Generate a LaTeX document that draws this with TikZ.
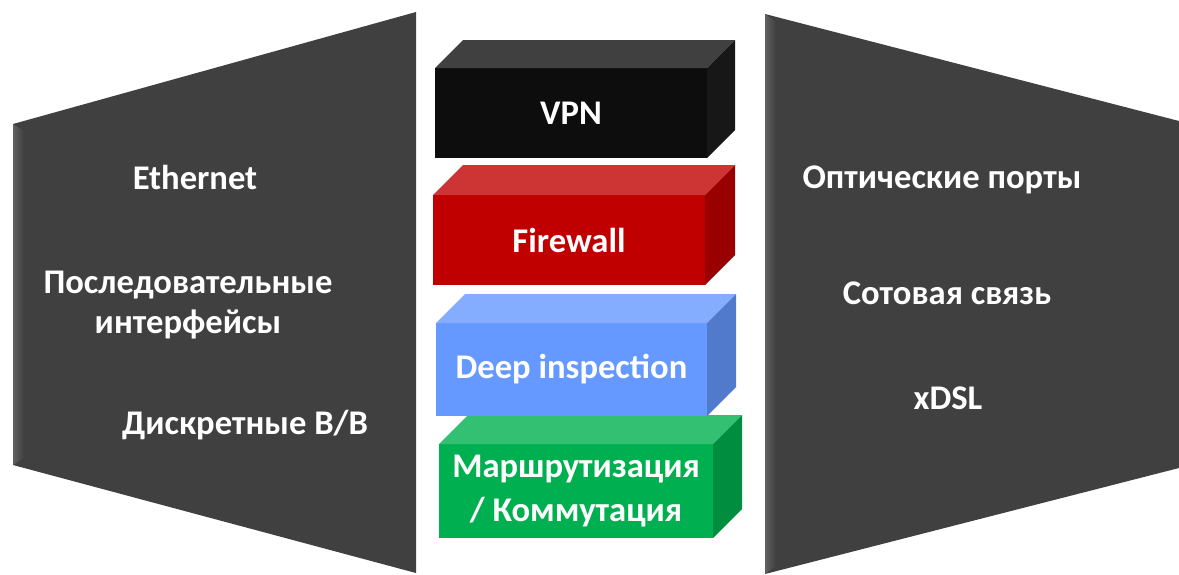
\documentclass[tikz,border=0pt]{standalone}
\usepackage{fontspec}
\setmainfont{Carlito}
\definecolor{panel}{HTML}{404040}
\definecolor{panelhi}{HTML}{616161}
\definecolor{vpnF}{HTML}{0D0D0D}
\definecolor{vpnT}{HTML}{404040}
\definecolor{vpnS}{HTML}{171717}
\definecolor{fwF}{HTML}{C00000}
\definecolor{fwT}{HTML}{CD3535}
\definecolor{fwS}{HTML}{9A0000}
\definecolor{diF}{HTML}{6699FF}
\definecolor{diT}{HTML}{85ADFF}
\definecolor{diS}{HTML}{527ACC}
\definecolor{rtF}{HTML}{00B050}
\definecolor{rtT}{HTML}{33C073}
\definecolor{rtS}{HTML}{008D40}
\newcommand\myfaces[6]{%
  \fill[#5] (#1.north west) -- ++(#4,-#4) -- ++(#2,0) -- (#1.north east) -- cycle;
  \fill[#6] (#1.north east) -- ++(#4,-#4) -- ++(0,#3) -- (#1.south east) -- cycle;
}
\begin{document}
\begin{tikzpicture}[x=0.5pt,y=-0.5pt,
  lbl/.style={text=white,font=\fontsize{17.3}{20}\selectfont\bfseries,align=center,inner sep=0pt},
  face/.style={lbl,inner sep=0pt,outer sep=0pt,font=\fontsize{17.3}{22}\selectfont\bfseries}]
\useasboundingbox (0,0) rectangle (1179,574);
% side panels
\fill[panel] (13,124) -- (416,12) -- (416,573) -- (13,465) -- cycle;
\shade[left color=panelhi,right color=panel] (13,124) -- (24,131) -- (24,458) -- (13,465) -- cycle;
\fill[panel] (765,14) -- (1179,121) -- (1179,468) -- (765,574) -- cycle;
\shade[left color=panelhi,right color=panel] (765,14) -- (776,22) -- (776,566) -- (765,574) -- cycle;
% panel texts
\node[lbl] (eth) at (195,177) {Ethernet};
\node[lbl] (ser) at (188,305) {Последовательные\\интерфейсы};
\node[lbl] (dio) at (245,425) {Дискретные В/В};
\node[lbl] (opt) at (942,180) {Оптические порты};
\node[lbl] (cel) at (947,293) {Сотовая связь};
\node[lbl] (dsl) at (948,398) {xDSL};
% blocks
\node[face,fill=rtF,minimum width=274*0.5pt,minimum height=94*0.5pt] (rt) at (576,491) {Маршрутизация\\/ Коммутация};
\myfaces{rt}{274}{94}{29}{rtT}{rtS}
\node[face,fill=diF,minimum width=271*0.5pt,minimum height=93*0.5pt] (di) at (571.5,369.5) {Deep inspection};
\myfaces{di}{271}{93}{29}{diT}{diS}
\node[face,fill=fwF,minimum width=272*0.5pt,minimum height=90*0.5pt] (fw) at (569,240) {Firewall};
\myfaces{fw}{272}{90}{30}{fwT}{fwS}
\node[face,fill=vpnF,minimum width=272*0.5pt,minimum height=90*0.5pt] (vpn) at (571,113) {VPN};
\myfaces{vpn}{272}{90}{28}{vpnT}{vpnS}
\end{tikzpicture}
\end{document}
